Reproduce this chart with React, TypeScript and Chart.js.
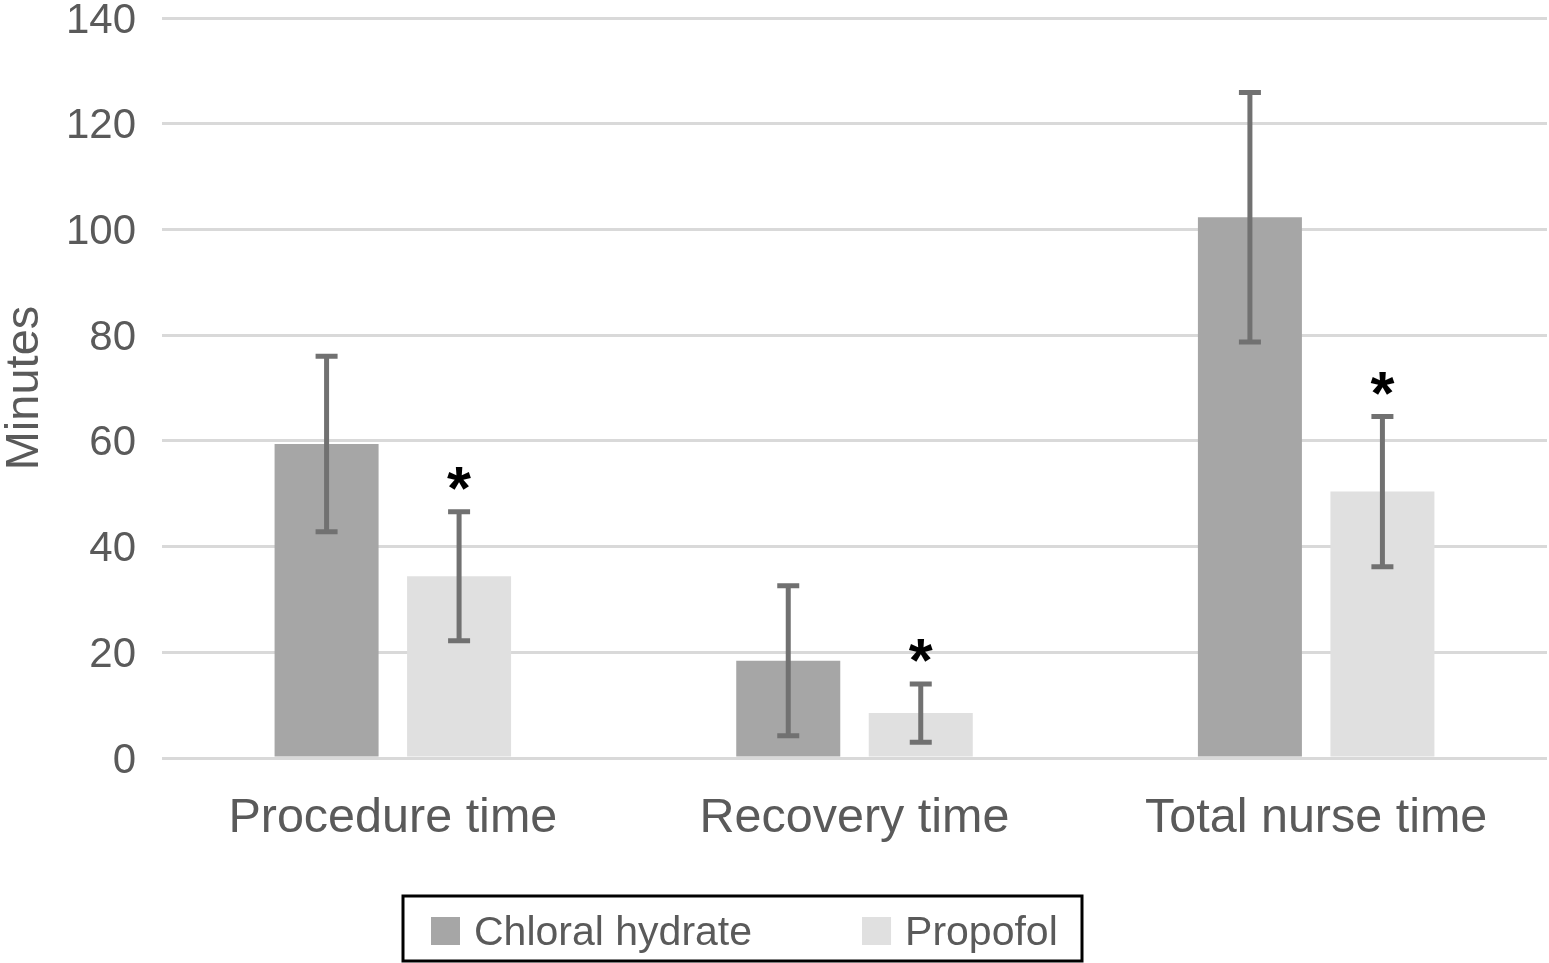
import React, { useEffect, useRef } from "react";
import { Chart, registerables } from "chart.js";

Chart.register(...registerables);

const categories = ["Procedure time", "Recovery time", "Total nurse time"];
const seriesNames = ["Chloral hydrate", "Propofol"];
const chloralMeans = [59.4, 18.4, 102.3];
const chloralSD = [16.6, 14.2, 23.6];
const propofolMeans = [34.4, 8.5, 50.4];
const propofolSD = [12.2, 5.5, 14.2];
const propofolSignificant = [true, true, true];
const yMin = 0;
const yMax = 140;
const yStep = 20;

const FONT = "'Liberation Sans', Arial, Helvetica, sans-serif";
const TEXT_COLOR = "#5a5a5a";
const CHLORAL_COLOR = "#a6a6a6";
const PROPOFOL_COLOR = "#e0e0e0";
const ERR_COLOR = "#717171";

const errorBarPlugin = {
  id: "errorBars",
  afterDatasetsDraw(chart: any) {
    const ctx = chart.ctx;
    const yScale = chart.scales.y;
    const sds = [chloralSD, propofolSD];
    const means = [chloralMeans, propofolMeans];
    ctx.save();
    ctx.strokeStyle = ERR_COLOR;
    ctx.lineCap = "butt";
    chart.data.datasets.forEach((_ds: any, di: number) => {
      const meta = chart.getDatasetMeta(di);
      meta.data.forEach((el: any, i: number) => {
        const x = el.x;
        const top = yScale.getPixelForValue(means[di][i] + sds[di][i]);
        const bot = yScale.getPixelForValue(means[di][i] - sds[di][i]);
        ctx.lineWidth = 5;
        ctx.beginPath();
        ctx.moveTo(x, top);
        ctx.lineTo(x, bot);
        ctx.stroke();
        ctx.beginPath();
        ctx.moveTo(x - 11, top);
        ctx.lineTo(x + 11, top);
        ctx.moveTo(x - 11, bot);
        ctx.lineTo(x + 11, bot);
        ctx.stroke();
        if (di === 1 && propofolSignificant[i]) {
          ctx.fillStyle = "#000";
          ctx.font = `bold 100px ${FONT}`;
          const m0 = ctx.measureText("*");
          const w0 = m0.actualBoundingBoxRight + m0.actualBoundingBoxLeft;
          const size = (100 * 24) / (w0 || 40);
          ctx.font = `bold ${size}px ${FONT}`;
          const m = ctx.measureText("*");
          ctx.textAlign = "left";
          ctx.textBaseline = "alphabetic";
          const inkBottom = top - 22;
          const by = inkBottom - m.actualBoundingBoxDescent;
          const bx = x - (m.actualBoundingBoxRight - m.actualBoundingBoxLeft) / 2;
          ctx.fillText("*", bx, by);
        }
      });
    });
    ctx.restore();
  },
};

const legendPlugin = {
  id: "boxLegend",
  afterDraw(chart: any) {
    const ctx = chart.ctx;
    ctx.save();
    ctx.strokeStyle = "#000";
    ctx.lineWidth = 3;
    ctx.strokeRect(403, 896, 679, 65);
    ctx.font = `41px ${FONT}`;
    ctx.textAlign = "left";
    ctx.textBaseline = "alphabetic";
    let x = 431;
    chart.data.datasets.forEach((ds: any) => {
      ctx.fillStyle = ds.backgroundColor;
      ctx.fillRect(x, 917, 29, 28);
      x += 29 + 14;
      ctx.fillStyle = TEXT_COLOR;
      ctx.fillText(ds.label, x, 945);
      x += ctx.measureText(ds.label).width + 110;
    });
    ctx.restore();
  },
};

export default function App() {
  const canvasRef = useRef<HTMLCanvasElement | null>(null);

  useEffect(() => {
    if (!canvasRef.current) return;
    const chart = new Chart(canvasRef.current, {
      type: "bar",
      data: {
        labels: categories,
        datasets: [
          {
            label: seriesNames[0],
            data: chloralMeans,
            backgroundColor: CHLORAL_COLOR,
            categoryPercentage: 0.574,
            barPercentage: 0.785,
          },
          {
            label: seriesNames[1],
            data: propofolMeans,
            backgroundColor: PROPOFOL_COLOR,
            categoryPercentage: 0.574,
            barPercentage: 0.785,
          },
        ],
      },
      options: {
        animation: false,
        responsive: true,
        maintainAspectRatio: false,
        layout: { padding: { top: 18, right: 2, bottom: 0, left: 0 } },
        plugins: {
          legend: { display: false },
          tooltip: { enabled: false },
        },
        scales: {
          x: {
            grid: { display: false, drawTicks: false },
            border: { display: false },
            ticks: {
              color: TEXT_COLOR,
              font: { family: FONT, size: 48.5 },
              padding: 32,
              maxRotation: 0,
              autoSkip: false,
            },
            afterFit(scale: any) {
              scale.height = 205;
              scale.paddingLeft = 0;
              scale.paddingRight = 0;
            },
          },
          y: {
            min: yMin,
            max: yMax,
            grid: { color: "#d9d9d9", lineWidth: 3, drawTicks: false },
            border: { display: false },
            ticks: {
              stepSize: yStep,
              color: TEXT_COLOR,
              font: { family: FONT, size: 42 },
              padding: 26,
              labelOffset: 3,
            },
            title: {
              display: true,
              text: "Minutes",
              color: TEXT_COLOR,
              font: { family: FONT, size: 47, lineHeight: 1 },
              padding: { top: 1.5, bottom: 0 },
            },
            afterFit(scale: any) {
              scale.width = 162;
              scale.paddingTop = 0;
              scale.paddingBottom = 0;
            },
          },
        },
      },
      plugins: [errorBarPlugin, legendPlugin],
    });
    return () => chart.destroy();
  }, []);

  return (
    <div
      style={{
        position: "fixed",
        left: 0,
        top: 0,
        width: 1549,
        height: 963,
        background: "#fff",
      }}
    >
      <canvas ref={canvasRef} />
    </div>
  );
}
